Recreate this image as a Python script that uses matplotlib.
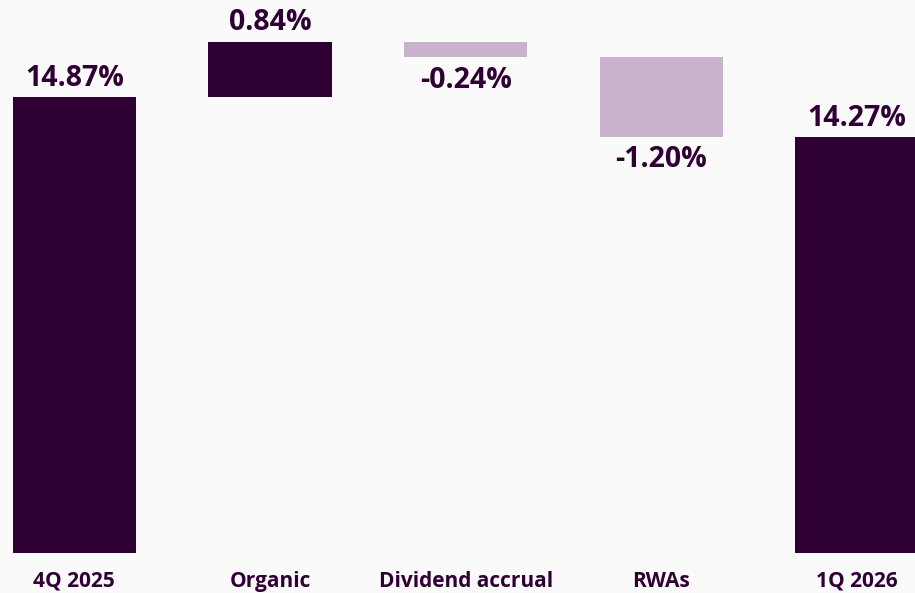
import matplotlib.pyplot as plt

# ---- data ----
categorias = ['4Q 2025', 'Organic', 'Dividend accrual', 'RWAs', '1Q 2026']
valores = [14.87, 0.84, -0.24, -1.20, 14.27]
eh_total = [True, False, False, False, True]

COR_ESCURA = '#2f0034'
COR_CLARA = '#c8b2cc'
COR_FUNDO = '#fafafa'

plt.rcParams['font.family'] = ['Open Sans', 'DejaVu Sans']

fig = plt.figure(figsize=(9.15, 5.93), dpi=100, facecolor=COR_FUNDO)
ax = fig.add_axes([0, 0.068, 1, 0.932])
ax.set_facecolor(COR_FUNDO)

# base / altura de cada barra da cascata
bases, alturas, cores = [], [], []
acumulado = 0
for v, total in zip(valores, eh_total):
    if total:
        bases.append(0)
        alturas.append(v)
        cores.append(COR_ESCURA)
        acumulado = v
    else:
        bases.append(acumulado if v >= 0 else acumulado + v)
        alturas.append(abs(v))
        cores.append(COR_ESCURA if v >= 0 else COR_CLARA)
        acumulado += v

x = range(len(categorias))
ax.bar(x, alturas, bottom=bases, width=0.63, color=cores)

# rotulos de valor
for i, (v, b, h) in enumerate(zip(valores, bases, alturas)):
    texto = f'{v:.2f}%'
    if v >= 0:
        ax.annotate(texto, (i, b + h), xytext=(0, 3), textcoords='offset points',
                    ha='center', va='bottom', fontsize=20.5, fontweight='bold', color=COR_ESCURA)
    else:
        ax.annotate(texto, (i, b), xytext=(0, -6), textcoords='offset points',
                    ha='center', va='top', fontsize=20.5, fontweight='bold', color=COR_ESCURA)

ax.set_xlim(-0.38, 4.296)
ax.set_ylim(7.97, 16.34)
ax.set_xticks(list(x))
ax.set_xticklabels(categorias, fontsize=15, fontweight='bold', color=COR_ESCURA)
ax.tick_params(axis='x', length=0, pad=13)
ax.set_yticks([])
for s in ax.spines.values():
    s.set_visible(False)

fig.savefig('out.png', dpi=100, facecolor=COR_FUNDO)
